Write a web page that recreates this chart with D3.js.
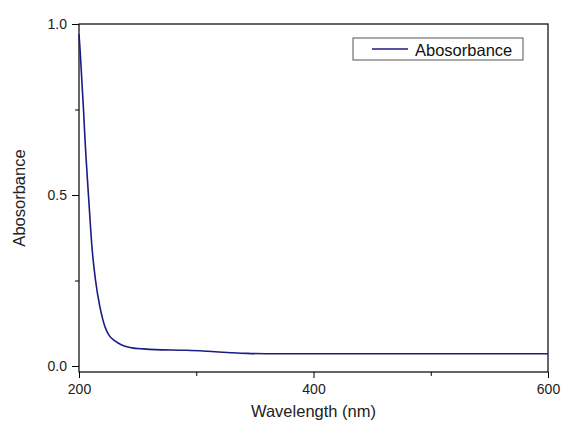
<html>
<head>
<script src="https://cdn.jsdelivr.net/npm/d3@7"></script>
<style>
  body{margin:0;background:#fff;}
  svg{font-family:"Liberation Sans", Arial, sans-serif;}
  .axis path, .axis line{stroke:#000;}
  .axis text{font-size:14px;fill:#222;}
</style>
</head>
<body>
<div id="container"></div>
<script>
// wavelength (nm) and absorbance
var wavelength = [200,201,202,203,204,205,206,207.2,209,211,214,217.7,220,222,224,226,230,233,238,245,255,265,292,310,330,343,360,400,500,600];
var absorbance = [0.97,0.92,0.86,0.80,0.74,0.67,0.61,0.545,0.45,0.35,0.253,0.175,0.14,0.116,0.10,0.088,0.075,0.068,0.059,0.053,0.050,0.048,0.046,0.043,0.039,0.037,0.036,0.036,0.036,0.036];
var xTicks = [200,400,600], xMinor = [300,500];
var yTicks = [0,0.5,1.0], yMinor = [0.25,0.75];
var seriesName = "Abosorbance";

var W = 561, H = 428;
var pLeft = 79, pRight = 548, pTop = 24, pBottom = 372;

var svg = d3.select("#container").append("svg")
  .attr("width", W).attr("height", H);

var x = d3.scaleLinear().domain([200,600]).range([pLeft,pRight]);
var y = d3.scaleLinear().domain([-0.0175,1.0]).range([pBottom,pTop]);

// frame
svg.append("rect").attr("x",pLeft).attr("y",pTop)
  .attr("width",pRight-pLeft).attr("height",pBottom-pTop)
  .attr("fill","none").attr("stroke","#000").attr("stroke-width",1.2);

var xAxis = svg.append("g").attr("class","axis")
  .attr("transform","translate(0,"+pBottom+")")
  .call(d3.axisBottom(x).tickValues(xTicks).tickSize(6).tickPadding(6).tickFormat(d3.format("d")));
xAxis.select(".domain").remove();
svg.append("g").attr("class","axis")
  .attr("transform","translate(0,"+pBottom+")")
  .call(d3.axisBottom(x).tickValues(xMinor).tickSize(4).tickFormat(""))
  .select(".domain").remove();

var yAxis = svg.append("g").attr("class","axis")
  .attr("transform","translate("+pLeft+",0)")
  .call(d3.axisLeft(y).tickValues(yTicks).tickSize(7).tickPadding(5).tickFormat(d3.format(".1f")));
yAxis.select(".domain").remove();
svg.append("g").attr("class","axis")
  .attr("transform","translate("+pLeft+",0)")
  .call(d3.axisLeft(y).tickValues(yMinor).tickSize(4).tickFormat(""))
  .select(".domain").remove();

var data = wavelength.map(function(d,i){ return [d, absorbance[i]]; });
var line = d3.line()
  .x(function(d){ return x(d[0]); })
  .y(function(d){ return y(d[1]); })
  .curve(d3.curveMonotoneX);

svg.append("path").datum(data)
  .attr("d", line)
  .attr("fill","none").attr("stroke","#1c1c84").attr("stroke-width",1.6);

// legend
var lg = svg.append("g");
lg.append("rect").attr("x",353).attr("y",38).attr("width",170).attr("height",22)
  .attr("fill","#fff").attr("stroke","#555").attr("stroke-width",1);
lg.append("line").attr("x1",372).attr("x2",408).attr("y1",49).attr("y2",49)
  .attr("stroke","#1c1c84").attr("stroke-width",1.6);
lg.append("text").attr("x",415).attr("y",56).attr("font-size",16.5).attr("fill","#111").text(seriesName);

// axis titles
svg.append("text").attr("x",(pLeft+pRight)/2).attr("y",417)
  .attr("text-anchor","middle").attr("font-size",16.5).attr("fill","#222").text("Wavelength (nm)");
svg.append("text").attr("transform","translate(25,198) rotate(-90)")
  .attr("text-anchor","middle").attr("font-size",16.5).attr("fill","#222").text(seriesName);
</script>
</body>
</html>
